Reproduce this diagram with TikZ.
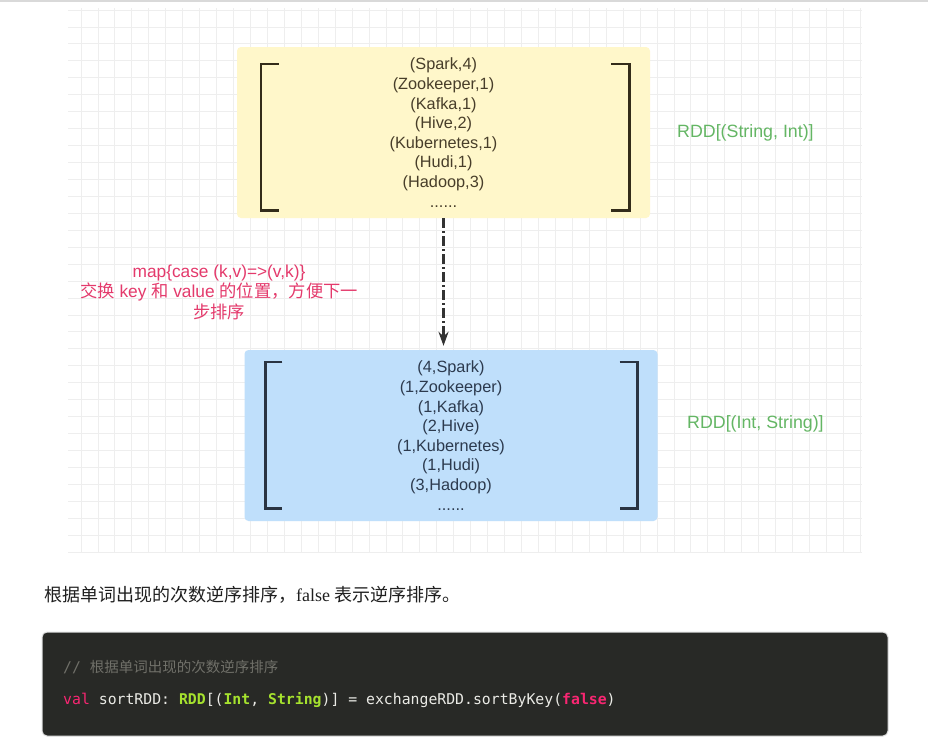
\documentclass[tikz,border=0pt]{standalone}
\usepackage{fontspec}
\setmainfont{Liberation Sans}
\setmonofont{DejaVu Sans Mono}
\newfontfamily\cjk{Noto Sans CJK SC}
\newfontfamily\serifrm{Liberation Serif}
\usetikzlibrary{arrows.meta,calc,positioning}
\definecolor{gridgray}{RGB}{238,238,238}
\definecolor{boxyellow}{RGB}{255,247,202}
\definecolor{boxblue}{RGB}{191,223,251}
\definecolor{brackbrown}{RGB}{52,44,26}
\definecolor{brackslate}{RGB}{42,52,66}
\definecolor{txtbrown}{RGB}{72,62,42}
\definecolor{txtslate}{RGB}{44,58,78}
\definecolor{notepink}{RGB}{228,58,108}
\definecolor{labelgreen}{RGB}{100,182,100}
\definecolor{codebg}{RGB}{40,41,38}
\definecolor{codegray}{RGB}{112,112,105}
\definecolor{codegreen}{RGB}{166,226,46}
\definecolor{codepink}{RGB}{249,38,114}
\definecolor{codewhite}{RGB}{235,235,230}
\tikzset{
  gridline/.style={draw=gridgray,line width=0.8pt},
  rddbox/.style={rectangle,rounded corners=4pt,minimum width=413pt,minimum height=171pt,
    inner sep=0pt,align=center,font=\fontsize{16.3}{19.6}\selectfont},
  bracket/.style={line width=2.6pt},
  typelabel/.style={anchor=west,inner sep=0pt,text=labelgreen,font=\fontsize{17.8}{20}\selectfont},
  notetext/.style={align=center,inner sep=0pt,text=notepink,font=\fontsize{17.3}{20.5}\selectfont},
  flowarrow/.style={-{Stealth[length=14pt,width=10pt]},line width=2.4pt,color=black!80,
    dash pattern=on 10pt off 3pt on 2pt off 3pt},
  codebox/.style={rectangle,rounded corners=5pt,fill=codebg,draw=black!12,line width=1pt,
    minimum width=846pt,minimum height=104pt},
  codeline/.style={anchor=west,inner sep=0pt,text=codewhite,font=\ttfamily\fontsize{14.8}{18}\selectfont}
}

\begin{document}
\begin{tikzpicture}[x=1pt,y=-1pt]
  \useasboundingbox[fill=white] (0,0) rectangle (928,740);
  \draw[black!15,line width=1.5pt] (0,1) -- (928,1);

  %% background grid
  \foreach \gx in {0,...,46}
    \draw[gridline] ({81+\gx*16.94},8) -- ({81+\gx*16.94},552);
  \foreach \gy in {0,...,32}
    \draw[gridline] (68,{10+\gy*16.94}) -- (862,{10+\gy*16.94});

  %% RDD boxes
  \node[rddbox,fill=boxyellow,text=txtbrown] (strrdd) at (443.5,132.5)
    {(Spark,4)\\(Zookeeper,1)\\(Kafka,1)\\(Hive,2)\\(Kubernetes,1)\\(Hudi,1)\\(Hadoop,3)\\......};
  \node[rddbox,fill=boxblue,text=txtslate] (intrdd) at (451,435.5)
    {(4,Spark)\\(1,Zookeeper)\\(1,Kafka)\\(2,Hive)\\(1,Kubernetes)\\(1,Hudi)\\(3,Hadoop)\\......};

  \draw[bracket,brackbrown] ($(strrdd.north west)+(42,17)$) -- ++(-18,0) |- ($(strrdd.south west)+(42,-8)$);
  \draw[bracket,brackbrown] ($(strrdd.north east)+(-39,17)$) -- ++(18,0) |- ($(strrdd.south east)+(-39,-8)$);
  \draw[bracket,brackslate] ($(intrdd.north west)+(38,12)$) -- ++(-17,0) |- ($(intrdd.south west)+(38,-13)$);
  \draw[bracket,brackslate] ($(intrdd.north east)+(-38,12)$) -- ++(18,0) |- ($(intrdd.south east)+(-38,-13)$);

  \node[typelabel] (strtype) at (677,133) {RDD[(String, Int)]};
  \node[typelabel] (inttype) at (687,424) {RDD[(Int, String)]};

  %% swap step
  \draw[flowarrow,shorten >=4pt] (strrdd.south) -- (strrdd.south |- intrdd.north);
  \node[notetext] (swapnote) at (219,292)
    {map\{case (k,v)=>(v,k)\}\\{\cjk 交换} key {\cjk 和} value {\cjk 的位置，方便下一}\\{\cjk 步排序}};

  %% text and code below
  \node[anchor=west,inner sep=0pt,text=black!88,font=\fontsize{18}{22}\selectfont] (sortdesc) at (44,595)
    {\cjk 根据单词出现的次数逆序排序，\serifrm false \cjk 表示逆序排序。};
  \node[codebox] (codeblock) at (465,684) {};
  \node[codeline,text=codegray] (comment) at (63,667) {// {\cjk\fontsize{14.5}{18}\selectfont 根据单词出现的次数逆序排序}};
  \node[codeline] (sortcode) at (63,700)
    {{\color{codepink}val} sortRDD: {\bfseries\color{codegreen}RDD}[({\bfseries\color{codegreen}Int}, {\bfseries\color{codegreen}String})] = exchangeRDD.sortByKey({\bfseries\color{codepink}false})};
\end{tikzpicture}
\end{document}
